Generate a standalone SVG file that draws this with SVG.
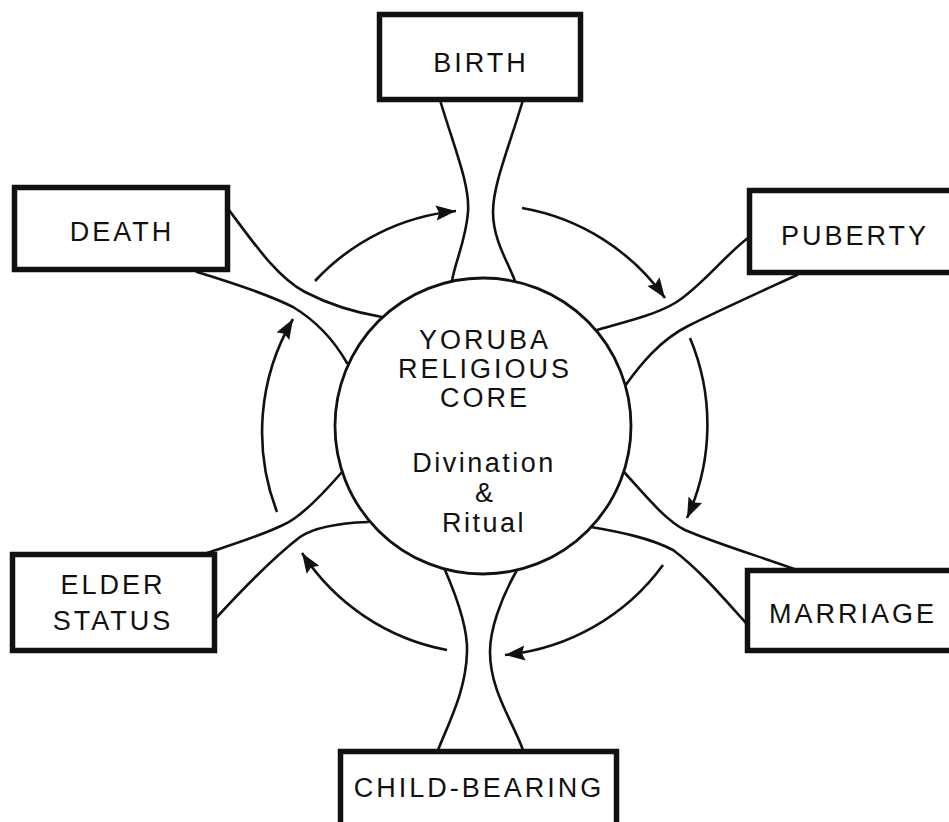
<svg xmlns="http://www.w3.org/2000/svg" width="949" height="822" viewBox="0 0 949 822">
<style>
.box{fill:#fff;stroke:#111;stroke-width:5.5}
.stem{fill:none;stroke:#111;stroke-width:2.6;stroke-linecap:round}
.arc{fill:none;stroke:#111;stroke-width:2.6;marker-end:url(#ah)}
.core{fill:#fff;stroke:#111;stroke-width:2.8}
text{font-family:"Liberation Sans",Arial,sans-serif;font-size:27px;fill:#111;text-anchor:middle}
.lbl{letter-spacing:3px}
.sub{letter-spacing:2.5px}
</style>
<defs>
<marker id="ah" markerUnits="userSpaceOnUse" markerWidth="22" markerHeight="16" refX="20" refY="7.5" orient="auto">
<path d="M0,0 L20,7.5 L0,15 L3,7.5 z" fill="#111"/>
</marker>
</defs>
<rect width="949" height="822" fill="#fff"/>
<g id="connectors">
<path class="stem" d="M440,100 C455,150 470,185 468,212 C466,240 455,262 452,281"/>
<path class="stem" d="M523,100 C508,150 493,185 493,212 C493,240 508,262 515,281"/>
<path class="stem" d="M229,210 C255,245 278,278 305,292 C330,305 358,313 382,317"/>
<path class="stem" d="M197,272 C230,282 265,293 293,307 C318,322 335,342 347,363"/>
<path class="stem" d="M597,330 C625,322 655,315 675,303 C700,288 725,255 748,238"/>
<path class="stem" d="M625,386 C640,365 660,340 688,326 C720,310 760,292 797,275"/>
<path class="stem" d="M624,472 C645,495 665,520 685,530 C720,545 765,558 797,570"/>
<path class="stem" d="M591,527 C620,532 650,538 673,550 C700,570 725,600 746,623"/>
<path class="stem" d="M445,570 C458,600 468,630 467,652 C466,690 450,720 438,750"/>
<path class="stem" d="M517,570 C500,600 490,630 490,652 C490,690 512,720 523,750"/>
<path class="stem" d="M342,472 C322,495 300,518 283,525 C258,537 230,545 207,553"/>
<path class="stem" d="M368,522 C340,523 315,527 300,537 C270,560 240,592 217,617"/>
<path class="arc" d="M315,281 A222,222 0 0 1 456,211"/>
<path class="arc" d="M522,208 A222,222 0 0 1 665,298"/>
<path class="arc" d="M690,338 A224,224 0 0 1 687,518"/>
<path class="arc" d="M663,565 A222,222 0 0 1 505,655"/>
<path class="arc" d="M447,650 A222,222 0 0 1 302,553"/>
<path class="arc" d="M277,512 A222,222 0 0 1 293,319"/>
</g>
<g id="core">
<circle class="core" cx="483" cy="426" r="148"/>
<text class="lbl" x="485" y="349">YORUBA</text>
<text class="lbl" x="485" y="378">RELIGIOUS</text>
<text class="lbl" x="485" y="407">CORE</text>
<text class="sub" x="484" y="472">Divination</text>
<text x="484" y="502">&amp;</text>
<text class="sub" x="484" y="532">Ritual</text>
</g>
<g id="birth">
<rect class="box" x="379.5" y="14.5" width="201" height="85"/>
<text class="lbl" x="481" y="72">BIRTH</text>
</g>
<g id="death">
<rect class="box" x="14.5" y="187.5" width="213" height="82"/>
<text class="lbl" x="122" y="241">DEATH</text>
</g>
<g id="puberty">
<rect class="box" x="749.5" y="190.5" width="220" height="82"/>
<text class="lbl" x="855" y="245">PUBERTY</text>
</g>
<g id="marriage">
<rect class="box" x="747.5" y="570.5" width="220" height="80"/>
<text class="lbl" x="853" y="623">MARRIAGE</text>
</g>
<g id="child-bearing">
<rect class="box" x="340.5" y="751.5" width="276" height="100"/>
<text class="lbl" x="479" y="797">CHILD-BEARING</text>
</g>
<g id="elder-status">
<rect class="box" x="12.5" y="554.5" width="202" height="96"/>
<text class="lbl" x="113" y="594">ELDER</text>
<text class="lbl" x="113" y="630">STATUS</text>
</g>
</svg>
